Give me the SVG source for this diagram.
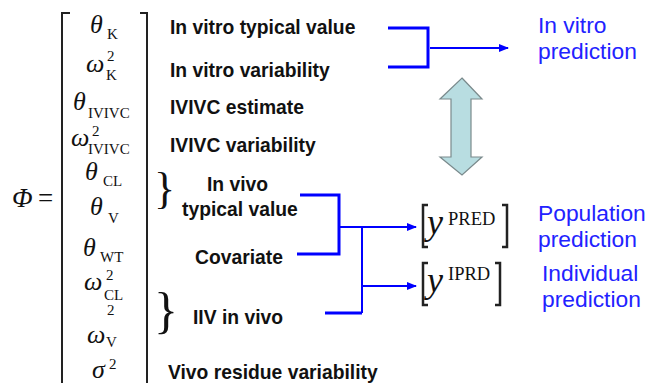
<svg xmlns="http://www.w3.org/2000/svg" width="650" height="383" viewBox="0 0 650 383">
<defs>
<style>
.m{font-family:"Liberation Serif","Times New Roman",serif;fill:#111}
.g{font-style:italic;font-size:26px}
.sb{font-size:15px}
.sp{font-size:15px}
.lb{font-family:"Liberation Sans",Arial,sans-serif;font-weight:bold;font-size:19.3px;fill:#111}
.bt{font-family:"Liberation Sans",Arial,sans-serif;font-size:22.8px;fill:#2222ff}
.br{fill:none;stroke:#222;stroke-width:2}
.yb{fill:none;stroke:#222;stroke-width:2.5}
.c{fill:none;stroke:#0000ff;stroke-width:3}
.a{fill:none;stroke:#0000ff;stroke-width:2}
</style>
<marker id="ah" viewBox="0 0 10 10" refX="9" refY="5" markerWidth="5" markerHeight="5" orient="auto" markerUnits="strokeWidth">
<path d="M0,1 L10,5 L0,9 Z" fill="#0000ff"/>
</marker>
</defs>
<rect width="650" height="383" fill="#fff"/>

<g id="matrix">
<text class="m" x="12" y="207" style="font-style:italic;font-size:27px">Φ</text>
<text class="m" x="38" y="207" style="font-size:27px">=</text>
<path class="br" d="M70,13 H62 V383"/>
<path class="br" d="M140,13 H147 V383"/>
<text class="m" x="90" y="33"><tspan class="g">θ</tspan><tspan class="sb" x="107" y="39">K</tspan></text>
<text class="m" x="86" y="72"><tspan class="g">ω</tspan><tspan class="sp" x="107" y="61">2</tspan><tspan class="sb" x="106" y="80">K</tspan></text>
<text class="m" x="73" y="110"><tspan class="g">θ</tspan><tspan class="sb" x="88" y="118">IVIVC</tspan></text>
<text class="m" x="71" y="146"><tspan class="g">ω</tspan><tspan class="sp" x="92" y="136">2</tspan><tspan class="sb" x="88" y="154">IVIVC</tspan></text>
<text class="m" x="85" y="180"><tspan class="g">θ</tspan><tspan class="sb" x="103" y="186">CL</tspan></text>
<text class="m" x="90" y="215"><tspan class="g">θ</tspan><tspan class="sb" x="108" y="223">V</tspan></text>
<text class="m" x="83" y="256"><tspan class="g">θ</tspan><tspan class="sb" x="100" y="262">WT</tspan></text>
<text class="m" x="84" y="290"><tspan class="g">ω</tspan><tspan class="sp" x="106" y="280">2</tspan><tspan class="sb" x="104" y="300">CL</tspan></text>
<text class="m sp" x="107" y="315">2</text>
<text class="m" x="87" y="343"><tspan class="g">ω</tspan><tspan class="sb" x="106" y="347">V</tspan></text>
<text class="m" x="92" y="378"><tspan class="g">σ</tspan><tspan class="sp" x="109" y="369">2</tspan></text>
</g>

<g id="braces">
<text class="m" x="154" y="203" style="font-size:44px">}</text>
<text class="m" x="154" y="327" style="font-size:50px">}</text>
</g>

<g id="labels">
<text class="lb" x="170" y="34">In vitro typical value</text>
<text class="lb" x="170" y="77">In vitro variability</text>
<text class="lb" x="170" y="114">IVIVC estimate</text>
<text class="lb" x="170" y="152">IVIVC variability</text>
<text class="lb" x="207" y="191">In vivo</text>
<text class="lb" x="182" y="216">typical value</text>
<text class="lb" x="195" y="264">Covariate</text>
<text class="lb" x="193" y="324">IIV in vivo</text>
<text class="lb" x="168" y="379">Vivo residue variability</text>
</g>

<g id="connectors">
<path class="c" d="M388,28 H428 V67 H388"/>
<path class="a" d="M430,48 H508" marker-end="url(#ah)"/>
<path class="c" d="M300,195 H339 V254 H297"/>
<path class="a" d="M339,227 H416" marker-end="url(#ah)"/>
<path class="a" d="M362,227 V313"/>
<path class="a" d="M362,286 H416" marker-end="url(#ah)"/>
<path class="c" d="M325,313 H362"/>
</g>

<g id="double-arrow">
<path d="M462,78 L482,99 H471 V157 H482 L462,175 L440,157 H451 V99 H440 Z" fill="#b8dde1" stroke="#7a8a8c" stroke-width="1.2"/>
</g>

<g id="ypred">
<path class="yb" d="M428,205 H423 V247 H428"/>
<path class="yb" d="M502,205 H507 V247 H502"/>
<text class="m" x="427" y="234" style="font-style:italic;font-size:36px">y</text>
<text class="m" x="448" y="225" style="font-size:18.5px">PRED</text>
</g>
<g id="yiprd">
<path class="yb" d="M428,263 H423 V305 H428"/>
<path class="yb" d="M495,263 H500 V305 H495"/>
<text class="m" x="427" y="292" style="font-style:italic;font-size:36px">y</text>
<text class="m" x="448" y="280" style="font-size:18.5px">IPRD</text>
</g>

<g id="outputs">
<text class="bt" x="538" y="33">In vitro</text>
<text class="bt" x="538" y="59">prediction</text>
<text class="bt" x="538" y="221">Population</text>
<text class="bt" x="538" y="247">prediction</text>
<text class="bt" x="542" y="281">Individual</text>
<text class="bt" x="542" y="307">prediction</text>
</g>
</svg>
